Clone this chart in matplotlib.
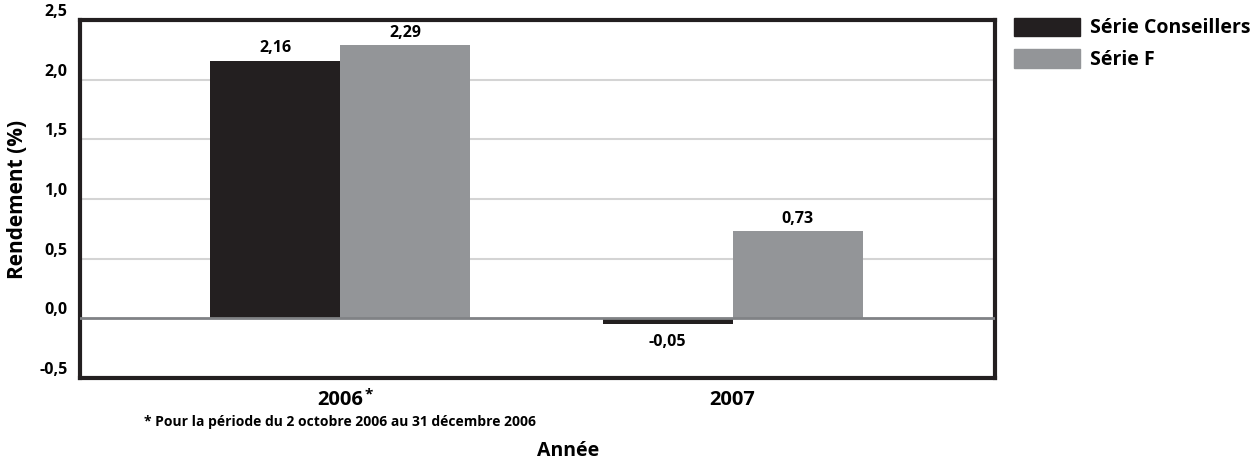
import matplotlib
matplotlib.use("Agg")
import matplotlib.pyplot as plt
import numpy as np
from matplotlib.patches import Patch

plt.rcParams["font.family"] = ["Open Sans", "DejaVu Sans"]
plt.rcParams["font.weight"] = "bold"

# données
annees = ["2006", "2007"]
serie_conseillers = [2.16, -0.05]
serie_f = [2.29, 0.73]
series_noms = ["Série Conseillers", "Série F"]
yticks = [-0.5, 0.0, 0.5, 1.0, 1.5, 2.0, 2.5]

couleur_noir = "#231f20"
couleur_gris = "#939598"


def fmt(v):
    return f"{v:.2f}".replace(".", ",")


fig = plt.figure(figsize=(12.58, 4.63), dpi=100)
ax = fig.add_axes([0.0636, 0.1836, 0.727, 0.773])

x = np.arange(len(annees))
w = 0.331

b1 = ax.bar(x - w / 2, serie_conseillers, w, color=couleur_noir, zorder=3)
b2 = ax.bar(x + w / 2, serie_f, w, color=couleur_gris, zorder=3)

for bars, vals in ((b1, serie_conseillers), (b2, serie_f)):
    for rect, v in zip(bars, vals):
        cx = rect.get_x() + rect.get_width() / 2
        if v >= 0:
            ax.annotate(fmt(v), (cx, v), xytext=(0, 3), textcoords="offset points",
                        ha="center", va="bottom", fontsize=11.5, fontweight="bold")
        else:
            ax.annotate(fmt(v), (cx, v), xytext=(0, -7), textcoords="offset points",
                        ha="center", va="top", fontsize=11.5, fontweight="bold")

ax.set_xlim(-0.662, 1.667)
ax.set_ylim(-0.5, 2.5)
ax.set_yticks(yticks)
ax.set_yticklabels([f"{t:.1f}".replace(".", ",") for t in yticks],
                   fontsize=11.5, fontweight="bold")
for lab in ax.get_yticklabels():
    lab.set_verticalalignment("bottom")
ax.tick_params(axis="y", length=0, pad=9)
ax.set_xticks(x)
ax.set_xticklabels(annees, fontsize=14.5, fontweight="bold")
ax.tick_params(axis="x", length=0, pad=9)

# astérisque sur 2006
ax.annotate("*", (0, 0), xycoords=("data", "axes fraction"), xytext=(18, -7),
            textcoords="offset points", ha="left", va="top", fontsize=11,
            fontweight="bold")

for yv in [0.5, 1.0, 1.5, 2.0]:
    ax.axhline(yv, color="#d4d4d4", lw=1.5, zorder=1)
ax.axhline(0, color="#808285", lw=2, zorder=4)

for s in ax.spines.values():
    s.set_linewidth(3)
    s.set_color("#231f20")

ax.set_ylabel("Rendement (%)", fontsize=15, fontweight="bold", labelpad=8)
fig.text(0.4515, 0.005, "Année", ha="center", va="bottom", fontsize=14,
         fontweight="bold")
fig.text(0.27, 0.088, "* Pour la période du 2 octobre 2006 au 31 décembre 2006",
         ha="center", va="center", fontsize=10, fontweight="bold")

handles = [Patch(color=couleur_noir), Patch(color=couleur_gris)]
fig.legend(handles, series_noms, loc="upper left", bbox_to_anchor=(0.806, 0.962),
           frameon=False, borderpad=0, borderaxespad=0, handlelength=3.4,
           handleheight=1.08, handletextpad=0.5, labelspacing=0.55,
           prop={"weight": "bold", "size": 14})

fig.savefig("out.png", dpi=100, facecolor="white")
